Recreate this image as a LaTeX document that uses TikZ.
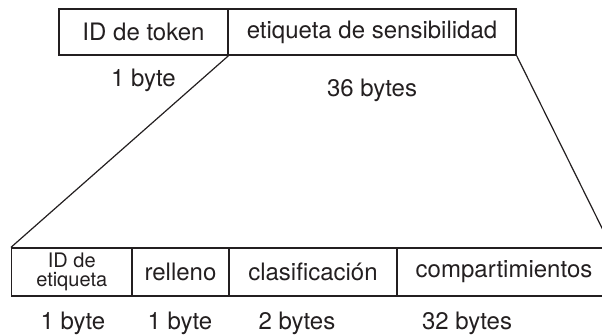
\documentclass[tikz,border=0pt]{standalone}
\usepackage{fontspec}
\setmainfont{TeX Gyre Heros}
\definecolor{ink}{HTML}{231F20}
\begin{document}
\begin{tikzpicture}[x=1pt,y=-1pt,
  every node/.style={text=ink},
  cell/.style={draw=ink, line width=1.2pt, inner sep=0pt, font=\fontsize{24}{28}\selectfont},
  topcell/.style={cell, minimum height=46pt},
  lowcell/.style={cell, minimum height=48pt},
  size/.style={anchor=base, inner sep=0pt, font=\fontsize{24}{28}\selectfont},
  link/.style={draw=ink, line width=1.2pt}]
\useasboundingbox (0,0) rectangle (602,335);
\clip (0,0) rectangle (602,335);
% token header
\node[topcell, minimum width=169pt] (tokid) at (143.5,32) {ID de token};
\node[topcell, minimum width=288pt] (sens) at (372,32) {etiqueta de sensibilidad};
\node[size] (tokidsz) at (143.5,86) {1 byte};
\node[size] (senssz) at (372,96) {36 bytes};
% sensitivity label fields
\node[lowcell, minimum width=120.5pt, align=center, font=\fontsize{20}{19}\selectfont] (lblid) at (71.75,272) {ID de\\etiqueta};
\node[lowcell, minimum width=97pt] (pad) at (180.5,272) {relleno};
\node[lowcell, minimum width=168pt] (cls) at (313,272) {clasificación};
\node[lowcell, minimum width=214pt] (comp) at (504,272) {compartimientos};
\node[size] (lblidsz) at (73,329) {1 byte};
\node[size] (padsz) at (180,329) {1 byte};
\node[size] (clssz) at (297,329) {2 bytes};
\node[size] (compsz) at (467,329) {32 bytes};
% expansion lines
\draw[link] (tokid.south east) -- (lblid.north west);
\draw[link] (sens.south east) -- (comp.north east);
\end{tikzpicture}
\end{document}
